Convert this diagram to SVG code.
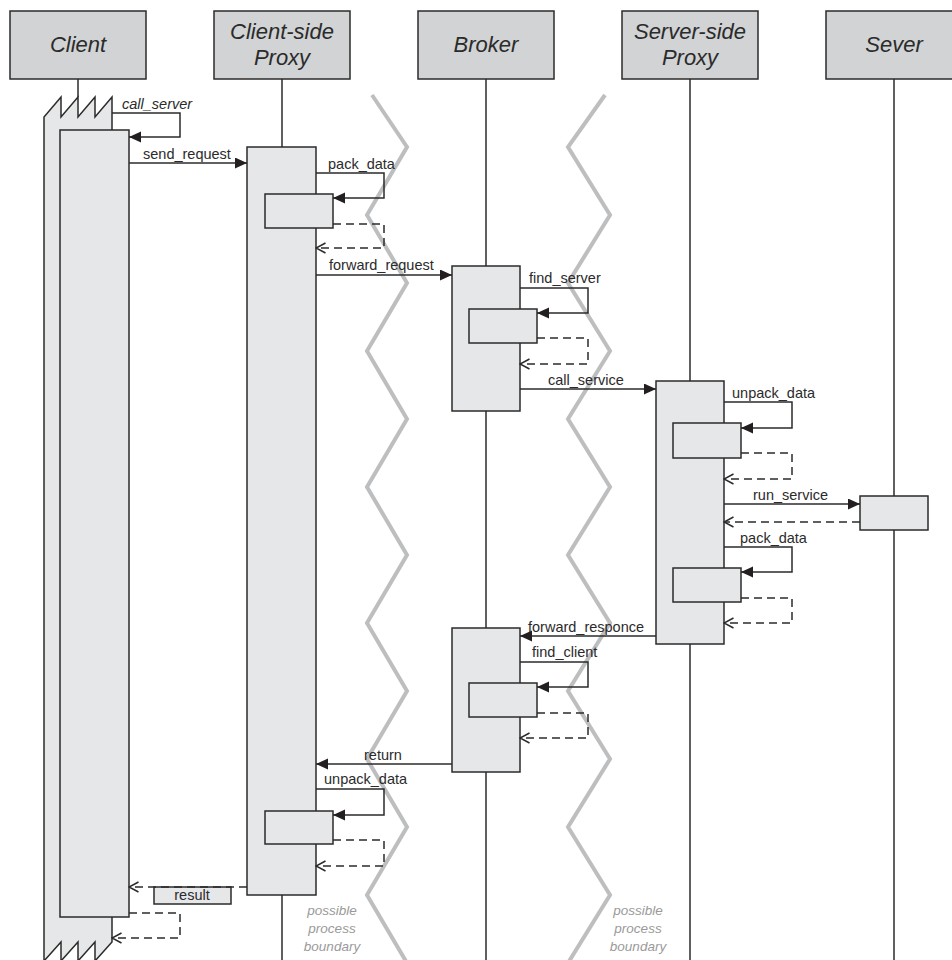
<svg xmlns="http://www.w3.org/2000/svg" width="952" height="960" viewBox="0 0 952 960">
<defs>
<style>
.hdr{fill:#d1d3d4;stroke:#2b2b2b;stroke-width:1.5}
.act{fill:#e6e7e8;stroke:#2b2b2b;stroke-width:1.5}
.life{stroke:#2b2b2b;stroke-width:1.5;fill:none}
.ht{font-family:"Liberation Sans",Arial,sans-serif;font-style:italic;font-size:22px;fill:#2b2b2b;text-anchor:middle}
.lbl{font-family:"Liberation Sans",Arial,sans-serif;font-size:14.5px;fill:#2b2b2b}
.msg{stroke:#2b2b2b;stroke-width:1.5;fill:none;marker-end:url(#fa)}
.ret{stroke:#2b2b2b;stroke-width:1.5;fill:none;stroke-dasharray:8 5;marker-end:url(#oa)}
.bnd{stroke:#bcbec0;stroke-width:4;fill:none;stroke-linejoin:miter}
.bt{font-family:"Liberation Sans",Arial,sans-serif;font-style:italic;font-size:13.5px;fill:#9a9a9a;text-anchor:middle}
</style>
<marker id="fa" markerUnits="userSpaceOnUse" markerWidth="13" markerHeight="12" refX="12" refY="5.5" orient="auto">
<path d="M0,0 L12,5.5 L0,11 z" fill="#231f20"/>
</marker>
<marker id="oa" markerUnits="userSpaceOnUse" markerWidth="12" markerHeight="12" refX="10.5" refY="6" orient="auto">
<path d="M1,1 L10.5,6 L1,11" fill="none" stroke="#2b2b2b" stroke-width="1.5"/>
</marker>
</defs>

<g id="boundaries">
<polyline class="bnd" points="372,95 407,147 367,215 407,283 367,351 407,419 367,487 407,555 367,623 407,691 367,759 407,827 367,895 407,963"/>
<polyline class="bnd" points="605,95 568,147 610,215 568,283 610,351 568,419 610,487 568,555 610,623 568,691 610,759 568,827 610,895 568,963"/>
<text class="bt" x="332" y="915">possible</text>
<text class="bt" x="332" y="933">process</text>
<text class="bt" x="332" y="951">boundary</text>
<text class="bt" x="638" y="915">possible</text>
<text class="bt" x="638" y="933">process</text>
<text class="bt" x="638" y="951">boundary</text>
</g>

<g id="client">
<rect class="hdr" x="10" y="11" width="136" height="68"/>
<text class="ht" x="78" y="52">Client</text>
<line class="life" x1="78" y1="79" x2="78" y2="97"/>
<polygon class="act" points="44,961 44,117 61,97 61,117 78,97 78,117 95,97 95,117 112,97 112,942 95,961 95,942 78,961 78,942 61,961 61,942 44,961"/>
<rect class="act" x="60" y="130" width="69" height="787"/>
</g>

<g id="client-side-proxy">
<rect class="hdr" x="214" y="11" width="136" height="68"/>
<text class="ht" x="282" y="39">Client-side</text>
<text class="ht" x="282" y="65">Proxy</text>
<line class="life" x1="282" y1="79" x2="282" y2="960"/>
<rect class="act" x="247" y="147" width="69" height="748"/>
<rect class="act" x="265" y="194" width="68" height="34"/>
<rect class="act" x="265" y="811" width="68" height="33"/>
</g>

<g id="broker">
<rect class="hdr" x="418" y="11" width="136" height="68"/>
<text class="ht" x="486" y="52">Broker</text>
<line class="life" x1="486" y1="79" x2="486" y2="960"/>
<rect class="act" x="452" y="266" width="68" height="145"/>
<rect class="act" x="469" y="309" width="68" height="34"/>
<rect class="act" x="452" y="628" width="68" height="144"/>
<rect class="act" x="469" y="683" width="68" height="34"/>
</g>

<g id="server-side-proxy">
<rect class="hdr" x="622" y="11" width="136" height="68"/>
<text class="ht" x="690" y="39">Server-side</text>
<text class="ht" x="690" y="65">Proxy</text>
<line class="life" x1="690" y1="79" x2="690" y2="960"/>
<rect class="act" x="656" y="381" width="68" height="263"/>
<rect class="act" x="673" y="423" width="68" height="35"/>
<rect class="act" x="673" y="568" width="68" height="34"/>
</g>

<g id="sever">
<rect class="hdr" x="826" y="11" width="136" height="68"/>
<text class="ht" x="894" y="52">Sever</text>
<line class="life" x1="894" y1="79" x2="894" y2="960"/>
<rect class="act" x="860" y="496" width="68" height="34"/>
</g>

<g id="connectors">
<polyline class="msg" points="112,113 180,113 180,137 129,137"/>
<text class="lbl" x="122" y="109" font-style="italic">call_server</text>

<line class="msg" x1="129" y1="163" x2="247" y2="163"/>
<text class="lbl" x="143" y="159">send_request</text>

<polyline class="msg" points="316,173 384,173 384,198 333,198"/>
<text class="lbl" x="328" y="169">pack_data</text>
<polyline class="ret" points="333,224 384,224 384,248 316,248"/>

<line class="msg" x1="316" y1="275" x2="452" y2="275"/>
<text class="lbl" x="329" y="270">forward_request</text>

<polyline class="msg" points="520,288 588,288 588,313 537,313"/>
<text class="lbl" x="529" y="283">find_server</text>
<polyline class="ret" points="537,338 588,338 588,364 520,364"/>

<line class="msg" x1="520" y1="389" x2="656" y2="389"/>
<text class="lbl" x="548" y="385">call_service</text>

<polyline class="msg" points="724,402 792,402 792,428 741,428"/>
<text class="lbl" x="732" y="398">unpack_data</text>
<polyline class="ret" points="741,453 792,453 792,479 724,479"/>

<line class="msg" x1="724" y1="504" x2="860" y2="504"/>
<text class="lbl" x="753" y="500">run_service</text>
<line class="ret" x1="860" y1="522" x2="724" y2="522"/>

<polyline class="msg" points="724,547 792,547 792,572 741,572"/>
<text class="lbl" x="740" y="543">pack_data</text>
<polyline class="ret" points="741,598 792,598 792,623 724,623"/>

<line class="msg" x1="656" y1="636" x2="520" y2="636"/>
<text class="lbl" x="528" y="632">forward_responce</text>

<polyline class="msg" points="520,662 588,662 588,687 537,687"/>
<text class="lbl" x="532" y="657">find_client</text>
<polyline class="ret" points="537,713 588,713 588,738 520,738"/>

<line class="msg" x1="452" y1="764" x2="316" y2="764"/>
<text class="lbl" x="364" y="760">return</text>

<polyline class="msg" points="316,789 384,789 384,815 333,815"/>
<text class="lbl" x="324" y="784">unpack_data</text>
<polyline class="ret" points="333,840 384,840 384,866 316,866"/>

<rect class="act" x="154" y="887" width="77" height="17"/>
<text class="lbl" x="192" y="900" text-anchor="middle">result</text>
<line class="ret" x1="247" y1="887" x2="129" y2="887"/>

<polyline class="ret" points="129,913 180,913 180,938 112,938"/>
</g>
</svg>
